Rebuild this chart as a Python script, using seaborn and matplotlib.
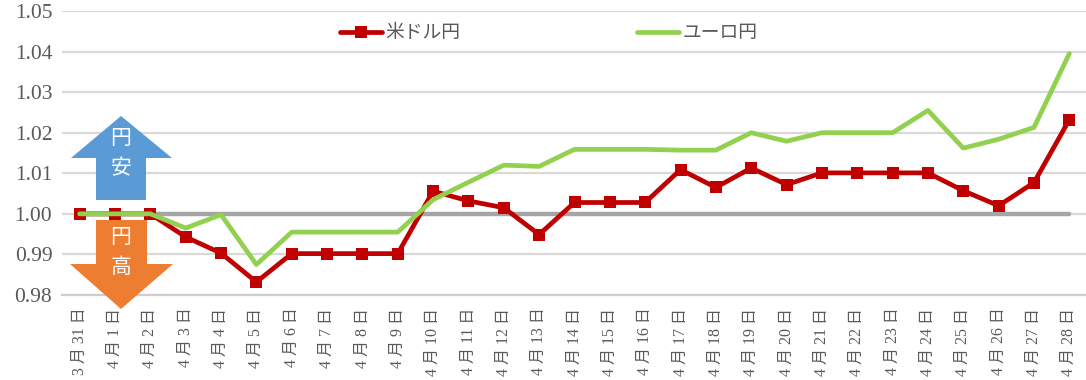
#!/usr/bin/env python3
import pandas as pd
import matplotlib.pyplot as plt
import seaborn as sns
from matplotlib.patches import Polygon

days = ["3 月 31 日"] + [f"4 月 {d} 日" for d in range(1, 29)]
usd_jpy = [1.0000, 1.0000, 1.0000, 0.9943, 0.9903, 0.9832, 0.9902, 0.9902, 0.9902, 0.9902,
           1.0056, 1.0032, 1.0015, 0.9949, 1.0028, 1.0028, 1.0028, 1.0109, 1.0065, 1.0113,
           1.0072, 1.0101, 1.0101, 1.0101, 1.0101, 1.0057, 1.0020, 1.0077, 1.0232]
eur_jpy = [1.0000, 1.0000, 1.0000, 0.9965, 0.9998, 0.9875, 0.9955, 0.9955, 0.9955, 0.9955,
           1.0035, 1.0078, 1.0120, 1.0117, 1.0159, 1.0159, 1.0159, 1.0157, 1.0157, 1.0200,
           1.0179, 1.0200, 1.0200, 1.0200, 1.0255, 1.0162, 1.0184, 1.0213, 1.0395]
baseline = [1.0] * len(days)
y_ticks = [0.98, 0.99, 1.00, 1.01, 1.02, 1.03, 1.04, 1.05]

W, H = 1086, 380
GRAY = "#595959"

sns.set_theme(style="white")
plt.rcParams["font.family"] = ["Liberation Serif", "Noto Sans CJK JP", "DejaVu Sans"]

df = pd.DataFrame({"day": days, "usd": usd_jpy, "eur": eur_jpy, "base": baseline})

fig = plt.figure(figsize=(W / 100, H / 100), dpi=100)
ax = fig.add_axes([62 / W, 1 - 295 / H, (1087 - 62) / W, (295 - 11) / H])

sns.lineplot(data=df, x="day", y="base", ax=ax, color="#a5a5a5", lw=3.2, sort=False,
             legend=False, zorder=2)
sns.lineplot(data=df, x="day", y="usd", ax=ax, color="#c00000", lw=3.4, sort=False,
             marker="s", markersize=8, markeredgewidth=0, label="米ドル円", zorder=3)
sns.lineplot(data=df, x="day", y="eur", ax=ax, color="#92d050", lw=3.4, sort=False,
             label="ユーロ円", zorder=5)

ax.set_xlim(-0.5, len(days) - 0.5)
ax.set_ylim(0.98, 1.05)
ax.set_yticks(y_ticks)
ax.set_yticklabels([f"{v:.2f}" for v in y_ticks], fontsize=15.5, color=GRAY)
ax.set_xticks(range(len(days)))
ax.set_xticklabels(days, rotation=90, fontsize=11.5, color=GRAY)
ax.set_xticks([i - 0.5 for i in range(len(days) + 1)], minor=True)
ax.set_xlabel("")
ax.set_ylabel("")

ax.grid(axis="y", color="#d9d9d9", lw=1.6)
ax.set_axisbelow(True)
sns.despine(ax=ax, left=True, top=True, right=True)
ax.spines["bottom"].set_color("#d0cdd0")
ax.spines["bottom"].set_linewidth(1.6)
ax.tick_params(axis="y", length=0, pad=7)
ax.tick_params(axis="x", which="major", length=0, pad=9)
ax.tick_params(axis="x", which="minor", length=6, width=1, color="#d0cdd0")

leg = ax.legend(loc="upper left", bbox_to_anchor=(278 / 1025, 0.95), ncol=2, frameon=False,
                fontsize=13.5, handlelength=2.25, handletextpad=0.15, columnspacing=9.45,
                borderpad=0, borderaxespad=0)
for t in leg.get_texts():
    t.set_color(GRAY)


def px(x, y):
    return (x / W, 1 - y / H)


# 円安 / 円高 arrows drawn in picture coordinates
up = [(121, 116), (172, 158), (146, 158), (146, 200), (96, 200), (96, 158), (71, 158)]
down = [(96, 220), (147, 220), (147, 264), (173, 264), (121, 309), (70, 264), (96, 264)]
fig.add_artist(Polygon([px(*p) for p in up], closed=True, transform=fig.transFigure,
                       fc="#5b9bd5", ec="none", zorder=4))
fig.add_artist(Polygon([px(*p) for p in down], closed=True, transform=fig.transFigure,
                       fc="#ed7d31", ec="none", zorder=4))
for label, y in [("円", 140), ("安", 170), ("円", 239), ("高", 268)]:
    fig.text(*px(121, y), label, color="white", fontsize=15, ha="center", va="center", zorder=6)

fig.savefig("out.png", dpi=100)
plt.close(fig)
